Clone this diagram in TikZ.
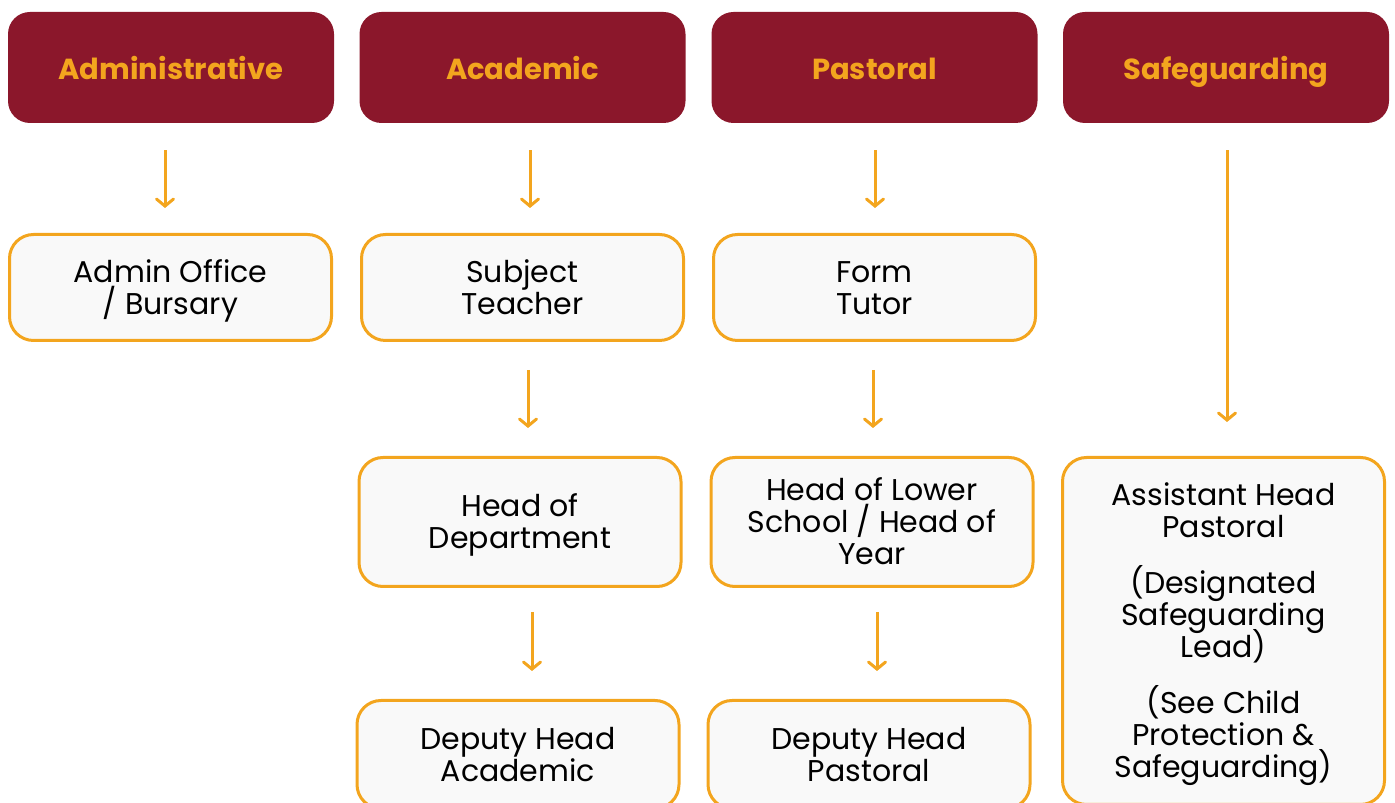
\documentclass[tikz,border=0pt]{standalone}
\usepackage{fontspec}
\setmainfont{Poppins}
\usetikzlibrary{arrows.meta}
\definecolor{hdrred}{RGB}{139,23,43}
\definecolor{gold}{RGB}{243,165,30}
\definecolor{boxfill}{RGB}{249,249,249}
\newcommand\myBodyFont{\fontsize{30}{32}\selectfont\lineskiplimit=-20pt\relax}
\newcommand\myTopStrut{\rule{0pt}{31pt}}
\newcommand\myBotStrut{\rule[-9pt]{0pt}{9pt}}
\tikzset{
  hdr/.style={fill=hdrred, draw=none, rounded corners=22pt, minimum width=326pt, minimum height=111pt,
    text=gold, font=\fontsize{29}{32}\selectfont\bfseries, inner sep=0pt, text height=25pt, text depth=0pt},
  rolebox/.style={fill=boxfill, draw=gold, line width=3pt, rounded corners=24pt, minimum width=322pt,
    text=black, font=\myBodyFont, align=center, inner sep=0pt},
  arr/.style={draw=gold, line width=3pt, -{Straight Barb[length=7pt,width=17pt,line width=3pt,line cap=round]}}
}
\begin{document}
\begin{tikzpicture}[x=1pt,y=1pt]
\useasboundingbox (0,0) rectangle (1395,803);
\clip (0,0) rectangle (1395,803);
% headers
\node[hdr] (h1) at (171,735.5) {Administrative};
\node[hdr] (h2) at (522.5,735.5) {Academic};
\node[hdr] (h3) at (874.5,735.5) {Pastoral};
\node[hdr] (h4) at (1226,735.5) {Safeguarding};
% row 1
\node[rolebox, minimum height=106pt] (b1) at (170.5,515.5) {\myTopStrut Admin Office\\ / Bursary\myBotStrut};
\node[rolebox, minimum height=106pt] (b2) at (522.5,515.5) {\myTopStrut Subject\\Teacher\myBotStrut};
\node[rolebox, minimum height=106pt] (b3) at (874.5,515.5) {\myTopStrut Form\\Tutor\myBotStrut};
% row 2
\node[rolebox, minimum height=129pt] (c2) at (520,281) {\myTopStrut Head of\\Department\myBotStrut};
\node[rolebox, minimum height=129pt] (c3) at (872,281) {\myTopStrut Head of Lower\\School / Head of\\Year\myBotStrut};
\node[rolebox, minimum height=347pt] (c4) at (1223.5,172) {\myTopStrut Assistant Head\\Pastoral\\[24pt](Designated\\Safeguarding\\Lead)\\[24pt](See Child\\Protection \&\\Safeguarding)\myBotStrut};
% row 3
\node[rolebox, minimum height=108pt] (d2) at (518,48.5) {\myTopStrut Deputy Head\\Academic\myBotStrut};
\node[rolebox, minimum height=108pt] (d3) at (869,48.5) {\myTopStrut Deputy Head\\Pastoral\myBotStrut};
% arrows
\draw[arr, shorten <=27pt, shorten >=25pt] ([xshift=-6pt]h1.south) -- ([xshift=-6pt]h1.south |- b1.north);
\draw[arr, shorten <=27pt, shorten >=25pt] ([xshift=7.5pt]h2.south) -- ([xshift=7.5pt]h2.south |- b2.north);
\draw[arr, shorten <=27pt, shorten >=25pt] ([xshift=0.5pt]h3.south) -- ([xshift=0.5pt]h3.south |- b3.north);
\draw[arr, shorten <=27pt, shorten >=34pt] ([xshift=1pt]h4.south) -- ([xshift=1pt]h4.south |- c4.north);
\draw[arr, shorten <=28pt, shorten >=28pt] ([xshift=5.5pt]b2.south) -- ([xshift=5.5pt]b2.south |- c2.north);
\draw[arr, shorten <=28pt, shorten >=28pt] ([xshift=-1.5pt]b3.south) -- ([xshift=-1.5pt]b3.south |- c3.north);
\draw[arr, shorten <=24pt, shorten >=28pt] ([xshift=12pt]c2.south) -- ([xshift=12pt]c2.south |- d2.north);
\draw[arr, shorten <=24pt, shorten >=28pt] ([xshift=5pt]c3.south) -- ([xshift=5pt]c3.south |- d3.north);
\end{tikzpicture}
\end{document}
